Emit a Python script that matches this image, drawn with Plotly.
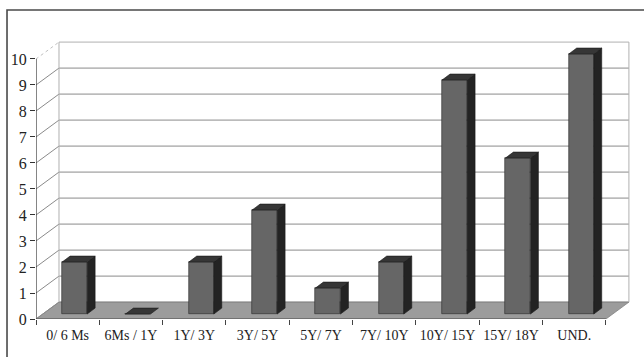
import plotly.graph_objects as go

# Age bands and counts
categories = ["0/ 6 Ms", "6Ms / 1Y", "1Y/ 3Y", "3Y/ 5Y", "5Y/ 7Y",
              "7Y/ 10Y", "10Y/ 15Y", "15Y/ 18Y", "UND."]
counts = [2, 0, 2, 4, 1, 2, 9, 6, 10]
y_ticks = list(range(0, 11))

# pseudo-3D geometry (in axis units)
DEPTH_X, DEPTH_Y = 0.363, 0.65      # wall depth
BAR_DX, BAR_DY = 0.11, 0.19         # bar offset from the front edge
BAR_W = 0.395                       # bar front width
BAR_SX, BAR_SY = 0.126, 0.23        # bar own depth

FRONT_C = "#666666"
SIDE_C = "#232323"
TOP_C = "#363636"
FLOOR_C = "#9c9c9c"
GRID_C = "#8a8a8a"
TEXT_C = "#222222"

n = len(categories)
x_left, x_right = -0.5, n - 0.5

fig = go.Figure()

# front faces of the bars
fig.add_trace(go.Bar(
    x=[i + BAR_DX for i in range(n)], y=counts, base=BAR_DY, width=BAR_W,
    marker=dict(color=FRONT_C, line=dict(color="#2a2a2a", width=0.6)),
    hoverinfo="skip", showlegend=False))

# side and top faces
for i, v in enumerate(counts):
    x0 = i + BAR_DX - BAR_W / 2
    x1 = i + BAR_DX + BAR_W / 2
    b = BAR_DY
    t = v + BAR_DY
    if v > 0:
        fig.add_trace(go.Scatter(
            x=[x1, x1 + BAR_SX, x1 + BAR_SX, x1, x1],
            y=[b, b + BAR_SY, t + BAR_SY, t, b],
            fill="toself", fillcolor=SIDE_C, mode="lines",
            line=dict(color="#1a1a1a", width=0.6),
            hoverinfo="skip", showlegend=False))
    fig.add_trace(go.Scatter(
        x=[x0, x1, x1 + BAR_SX, x0 + BAR_SX, x0],
        y=[t, t, t + BAR_SY, t + BAR_SY, t],
        fill="toself", fillcolor=TOP_C, mode="lines",
        line=dict(color="#1a1a1a", width=0.6),
        hoverinfo="skip", showlegend=False))

shapes = []
# floor
shapes.append(dict(
    type="path", xref="x", yref="y", layer="below",
    path=(f"M {x_left},0 L {x_right},0 L {x_right + DEPTH_X},{DEPTH_Y} "
          f"L {x_left + DEPTH_X},{DEPTH_Y} Z"),
    fillcolor=FLOOR_C, line=dict(color="#808080", width=0.8)))
# back wall gridlines and side-wall diagonals
for k in y_ticks:
    yb = k + DEPTH_Y
    shapes.append(dict(type="line", xref="x", yref="y", layer="below",
                       x0=x_left + DEPTH_X, x1=x_right + DEPTH_X, y0=yb, y1=yb,
                       line=dict(color=GRID_C if k < 10 else "#b0b0b0", width=1)))
    shapes.append(dict(type="line", xref="x", yref="y", layer="below",
                       x0=x_left, x1=x_left + DEPTH_X, y0=k, y1=yb,
                       line=dict(color=GRID_C if k < 10 else "#c0c0c0", width=1,
                                 dash="solid" if k < 10 else "dot")))
# wall edges
shapes.append(dict(type="line", xref="x", yref="y", layer="below",
                   x0=x_left + DEPTH_X, x1=x_left + DEPTH_X,
                   y0=DEPTH_Y, y1=10 + DEPTH_Y, line=dict(color="#b0b0b0", width=1)))
shapes.append(dict(type="line", xref="x", yref="y", layer="below",
                   x0=x_right + DEPTH_X, x1=x_right + DEPTH_X,
                   y0=DEPTH_Y, y1=10 + DEPTH_Y, line=dict(color="#b0b0b0", width=1)))
# front axes
shapes.append(dict(type="line", xref="x", yref="y",
                   x0=x_left, x1=x_left, y0=0, y1=10,
                   line=dict(color="#333333", width=1.2)))
shapes.append(dict(type="line", xref="x", yref="y",
                   x0=x_left, x1=x_right, y0=0, y1=0,
                   line=dict(color="#555555", width=1.2)))
# outer frame
shapes.append(dict(type="rect", xref="paper", yref="paper",
                   x0=-0.0488, x1=1.2, y0=-0.3, y1=1.1075,
                   line=dict(color="#4a4a4a", width=1.6)))

fig.update_layout(
    width=644, height=357,
    margin=dict(l=36, r=14, t=40, b=38),
    paper_bgcolor="white", plot_bgcolor="white",
    shapes=shapes,
    bargap=0,
    xaxis=dict(
        range=[x_left, x_right + 0.38], showgrid=False, zeroline=False,
        showline=False,
        tickvals=list(range(n)), ticktext=categories,
        ticks="", ticklabelstandoff=6,
        minor=dict(tickvals=[x_left + k for k in range(n + 1)],
                   ticks="outside", ticklen=5, tickcolor="#444444", showgrid=False),
        tickfont=dict(family="Liberation Serif", size=14, color=TEXT_C),
    ),
    yaxis=dict(
        range=[0, 10.73], showgrid=False, zeroline=False, showline=False,
        tickvals=y_ticks, ticks="outside", ticklen=5, tickcolor="#333333",
        tickfont=dict(family="Liberation Serif", size=16, color=TEXT_C),
    ),
)

fig.write_html("out.html")
